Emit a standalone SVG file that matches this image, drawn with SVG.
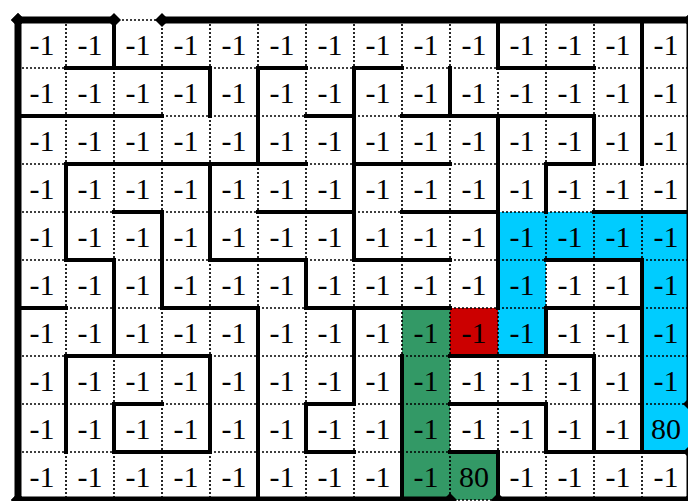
<svg xmlns="http://www.w3.org/2000/svg" width="688" height="501" viewBox="0 0 688 501">
<style>
.grid{stroke:#000;stroke-width:1.7;stroke-dasharray:2 2;fill:none}
.wall{stroke:#000;stroke-width:4;stroke-linecap:square;fill:none}
.border{stroke:#000;stroke-width:7;fill:none;marker-start:url(#dia);marker-end:url(#dia)}
.t{font-family:"Liberation Serif","Times New Roman",serif;font-size:30px;text-anchor:middle;fill:#000}
.blue{fill:#00CCFF}.red{fill:#CC0000}.green{fill:#339966}
</style>
<defs>
<marker id="dia" markerUnits="userSpaceOnUse" markerWidth="16" markerHeight="16" refX="8" refY="8" viewBox="0 0 16 16" orient="0" overflow="visible">
<path d="M8 1 L15 8 L8 15 L1 8 Z" fill="#000"/>
</marker>
</defs>
<rect width="688" height="501" fill="#fff"/>
<g id="fills">
<rect class="blue" x="498" y="212" width="192" height="48"/>
<rect class="blue" x="498" y="260" width="48" height="96"/>
<rect class="blue" x="642" y="260" width="48" height="192"/>
<rect class="red" x="450" y="308" width="48" height="48"/>
<rect class="green" x="402" y="308" width="48" height="192"/>
<rect class="green" x="450" y="452" width="48" height="48"/>
</g>
<g id="grid" class="grid">
<path d="M66 20V500M114 20V500M162 20V500M210 20V500M258 20V500M306 20V500M354 20V500M402 20V500M450 20V500M498 20V500M546 20V500M594 20V500M642 20V500"/>
<path d="M18 68H690M18 116H690M18 164H690M18 212H690M18 260H690M18 308H690M18 356H690M18 404H690M18 452H690"/>
<path d="M114 20H162M450 500H498"/>
</g>
<g id="walls" class="wall">
<path d="M66 68H210M258 68H306M354 68H402M498 68H594"/>
<path d="M18 116H162M306 116H354M402 116H594"/>
<path d="M66 164H306M354 164H450M546 164H594"/>
<path d="M114 212H162M258 212H354M402 212H498M594 212H690"/>
<path d="M66 260H114M210 260H306M354 260H450M546 260H642"/>
<path d="M18 308H66M162 308H258M306 308H450M546 308H642"/>
<path d="M66 356H210M450 356H594"/>
<path d="M114 404H162M306 404H354M450 404H546"/>
<path d="M114 452H210M306 452H354M450 452H498M546 452H690"/>
<path d="M66 164V260M66 356V452"/>
<path d="M114 20V68M114 260V356M114 404V452"/>
<path d="M162 212V308"/>
<path d="M210 68V116M210 164V260M210 356V452"/>
<path d="M258 68V164M258 308V500"/>
<path d="M306 260V308M306 404V452"/>
<path d="M354 68V260M354 308V404"/>
<path d="M402 356V500"/>
<path d="M450 68V116"/>
<path d="M498 20V68M498 116V308M498 452V500"/>
<path d="M546 164V212M546 308V356M546 404V452"/>
<path d="M594 116V164M594 356V452"/>
<path d="M642 20V164M642 260V452"/>
</g>
<g id="border">
<path class="border" d="M18 20H114"/>
<path class="border" d="M162 20H690"/>
<path class="border" d="M18 20V500"/>
<path class="border" d="M18 500H450"/>
<path class="border" d="M498 500H690"/>
<path class="border" d="M690 20V404"/>
<path class="border" d="M690 452V500"/>
</g>
<g id="labels" class="t">
<text x="42" y="55">-1</text><text x="90" y="55">-1</text><text x="138" y="55">-1</text><text x="186" y="55">-1</text><text x="234" y="55">-1</text><text x="282" y="55">-1</text><text x="330" y="55">-1</text><text x="378" y="55">-1</text><text x="426" y="55">-1</text><text x="474" y="55">-1</text><text x="522" y="55">-1</text><text x="570" y="55">-1</text><text x="618" y="55">-1</text><text x="666" y="55">-1</text>
<text x="42" y="103">-1</text><text x="90" y="103">-1</text><text x="138" y="103">-1</text><text x="186" y="103">-1</text><text x="234" y="103">-1</text><text x="282" y="103">-1</text><text x="330" y="103">-1</text><text x="378" y="103">-1</text><text x="426" y="103">-1</text><text x="474" y="103">-1</text><text x="522" y="103">-1</text><text x="570" y="103">-1</text><text x="618" y="103">-1</text><text x="666" y="103">-1</text>
<text x="42" y="151">-1</text><text x="90" y="151">-1</text><text x="138" y="151">-1</text><text x="186" y="151">-1</text><text x="234" y="151">-1</text><text x="282" y="151">-1</text><text x="330" y="151">-1</text><text x="378" y="151">-1</text><text x="426" y="151">-1</text><text x="474" y="151">-1</text><text x="522" y="151">-1</text><text x="570" y="151">-1</text><text x="618" y="151">-1</text><text x="666" y="151">-1</text>
<text x="42" y="199">-1</text><text x="90" y="199">-1</text><text x="138" y="199">-1</text><text x="186" y="199">-1</text><text x="234" y="199">-1</text><text x="282" y="199">-1</text><text x="330" y="199">-1</text><text x="378" y="199">-1</text><text x="426" y="199">-1</text><text x="474" y="199">-1</text><text x="522" y="199">-1</text><text x="570" y="199">-1</text><text x="618" y="199">-1</text><text x="666" y="199">-1</text>
<text x="42" y="247">-1</text><text x="90" y="247">-1</text><text x="138" y="247">-1</text><text x="186" y="247">-1</text><text x="234" y="247">-1</text><text x="282" y="247">-1</text><text x="330" y="247">-1</text><text x="378" y="247">-1</text><text x="426" y="247">-1</text><text x="474" y="247">-1</text><text x="522" y="247">-1</text><text x="570" y="247">-1</text><text x="618" y="247">-1</text><text x="666" y="247">-1</text>
<text x="42" y="295">-1</text><text x="90" y="295">-1</text><text x="138" y="295">-1</text><text x="186" y="295">-1</text><text x="234" y="295">-1</text><text x="282" y="295">-1</text><text x="330" y="295">-1</text><text x="378" y="295">-1</text><text x="426" y="295">-1</text><text x="474" y="295">-1</text><text x="522" y="295">-1</text><text x="570" y="295">-1</text><text x="618" y="295">-1</text><text x="666" y="295">-1</text>
<text x="42" y="343">-1</text><text x="90" y="343">-1</text><text x="138" y="343">-1</text><text x="186" y="343">-1</text><text x="234" y="343">-1</text><text x="282" y="343">-1</text><text x="330" y="343">-1</text><text x="378" y="343">-1</text><text x="426" y="343">-1</text><text x="474" y="343">-1</text><text x="522" y="343">-1</text><text x="570" y="343">-1</text><text x="618" y="343">-1</text><text x="666" y="343">-1</text>
<text x="42" y="391">-1</text><text x="90" y="391">-1</text><text x="138" y="391">-1</text><text x="186" y="391">-1</text><text x="234" y="391">-1</text><text x="282" y="391">-1</text><text x="330" y="391">-1</text><text x="378" y="391">-1</text><text x="426" y="391">-1</text><text x="474" y="391">-1</text><text x="522" y="391">-1</text><text x="570" y="391">-1</text><text x="618" y="391">-1</text><text x="666" y="391">-1</text>
<text x="42" y="439">-1</text><text x="90" y="439">-1</text><text x="138" y="439">-1</text><text x="186" y="439">-1</text><text x="234" y="439">-1</text><text x="282" y="439">-1</text><text x="330" y="439">-1</text><text x="378" y="439">-1</text><text x="426" y="439">-1</text><text x="474" y="439">-1</text><text x="522" y="439">-1</text><text x="570" y="439">-1</text><text x="618" y="439">-1</text><text x="666" y="439">80</text>
<text x="42" y="487">-1</text><text x="90" y="487">-1</text><text x="138" y="487">-1</text><text x="186" y="487">-1</text><text x="234" y="487">-1</text><text x="282" y="487">-1</text><text x="330" y="487">-1</text><text x="378" y="487">-1</text><text x="426" y="487">-1</text><text x="474" y="487">80</text><text x="522" y="487">-1</text><text x="570" y="487">-1</text><text x="618" y="487">-1</text><text x="666" y="487">-1</text>
</g>
</svg>
